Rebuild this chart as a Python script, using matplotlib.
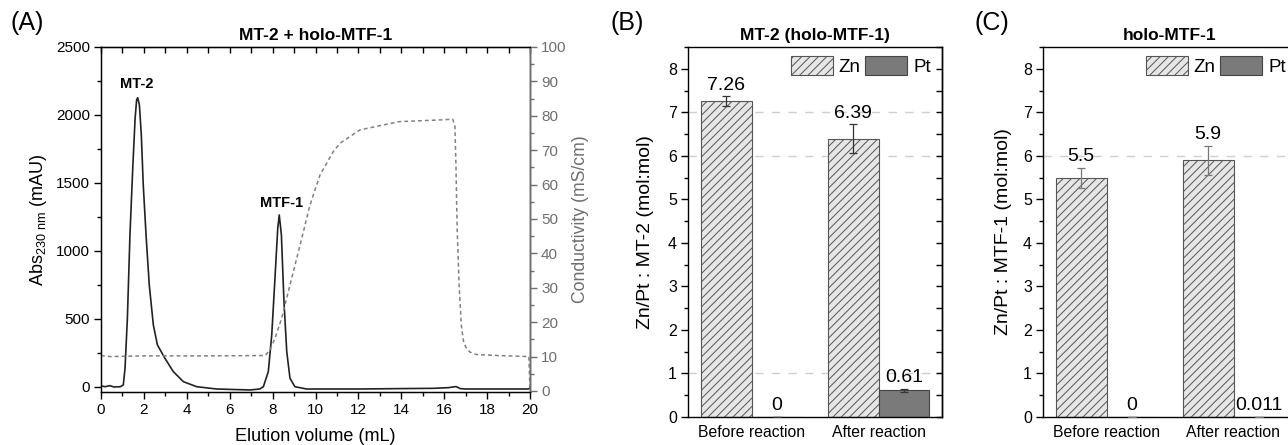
import matplotlib
matplotlib.use("Agg")
import matplotlib.pyplot as plt
from matplotlib.ticker import MultipleLocator
from matplotlib.patches import Patch
import numpy as np

plt.rcParams['font.family'] = ['Liberation Sans', 'DejaVu Sans']
plt.rcParams['hatch.linewidth'] = 0.7

# ---------------- data ----------------
# Panel A: chromatogram (absorbance at 230 nm, mAU)
abs_x = [0.0, 0.2, 0.4, 0.6, 0.9, 1.04, 1.12, 1.23, 1.35, 1.48, 1.59, 1.66, 1.71, 1.79,
         1.88, 1.97, 2.10, 2.25, 2.44, 2.63, 2.98, 3.37, 3.84, 4.46, 5.39, 6.95, 7.40,
         7.57, 7.80, 7.96, 8.11, 8.24, 8.31, 8.41, 8.53, 8.66, 8.81, 9.04, 9.59, 12.0,
         14.0, 15.5, 16.2, 16.55, 16.75, 17.0, 19.9, 20.0]
abs_y = [8, 2, 10, 0, 2, 15, 137, 505, 1118, 1608, 1975, 2110, 2127, 2074,
         1853, 1485, 1118, 750, 456, 309, 211, 113, 39, 2, -15, -22, -15,
         2, 113, 382, 799, 1167, 1265, 1118, 627, 260, 64, 2, -15, -15,
         -12, -10, -5, 3, -12, -15, -15, -10]
# Conductivity (mS/cm)
cond_x = [0.0, 0.43, 2.0, 5.0, 7.65, 7.88, 8.11, 8.42, 8.81, 9.28, 9.74, 10.21, 10.83,
          11.14, 12.07, 13.9, 15.8, 16.4, 16.5, 16.55, 16.6, 16.7, 16.8, 16.9, 17.0,
          17.2, 17.5, 18.5, 19.95, 20.0]
cond_y = [10.3, 10.0, 10.2, 10.2, 10.3, 11.9, 15.3, 21.1, 30.8, 42.4, 54.0, 62.8, 69.6,
          72.0, 75.9, 78.3, 78.8, 79.0, 77.0, 65.0, 48.0, 30.0, 19.0, 14.5, 12.8,
          11.3, 10.6, 10.3, 10.0, 0.0]

# Panels B and C: metal ratios
categories = ["Before reaction", "After reaction"]
b_zn = [7.26, 6.39]
b_zn_err = [0.11, 0.33]
b_pt = [0.0, 0.61]
b_pt_err = [0.0, 0.04]
b_zn_labels = ["7.26", "6.39"]
b_pt_labels = ["0", "0.61"]

c_zn = [5.5, 5.9]
c_zn_err = [0.23, 0.33]
c_pt = [0.0, 0.011]
c_pt_err = [0.0, 0.0]
c_zn_labels = ["5.5", "5.9"]
c_pt_labels = ["0", "0.011"]

W, H = 1288, 445
fig = plt.figure(figsize=(W / 100, H / 100), dpi=100)

def box(l, t, r, b):
    return [l / W, 1 - b / H, (r - l) / W, (b - t) / H]

LINE = '#222222'
GRAY = '#6e6e6e'

# ---------------- Panel A ----------------
axA = fig.add_axes(box(101, 47, 530, 392))
axA.plot(abs_x, abs_y, color=LINE, lw=1.2, zorder=3)
axA.set_xlim(0, 20)
axA.set_ylim(-37, 2500)
axA.xaxis.set_major_locator(MultipleLocator(2))
axA.xaxis.set_minor_locator(MultipleLocator(1))
axA.yaxis.set_major_locator(MultipleLocator(500))
axA.yaxis.set_minor_locator(MultipleLocator(250))
axA.tick_params(axis='both', which='major', direction='out', length=5, width=1,
                labelsize=11, pad=3)
axA.tick_params(axis='both', which='minor', direction='out', length=3, width=1)
axA.set_xlabel("Elution volume (mL)", fontsize=13)
axA.xaxis.set_label_coords(0.5, -0.105)
axA.set_ylabel(r"Abs$_{\mathregular{230\ nm}}$ (mAU)", fontsize=13)
axA.yaxis.set_label_coords(-0.122, 0.5)
axA.set_title("MT-2 + holo-MTF-1", fontsize=12.5, fontweight='bold', pad=5)
for s in axA.spines.values():
    s.set_linewidth(1.0)
axA.text(1.66, 2180, "MT-2", ha='center', va='bottom', fontsize=10.5, fontweight='bold')
axA.text(8.42, 1300, "MTF-1", ha='center', va='bottom', fontsize=10.5, fontweight='bold')
# top ticks inward
secx = axA.secondary_xaxis('top')
secx.xaxis.set_major_locator(MultipleLocator(1))
secx.tick_params(direction='in', length=4, width=1, labeltop=False)
axA.tick_params(axis='x', which='both', top=False)

axA2 = axA.twinx()
axA2.plot(cond_x, cond_y, color='#808080', lw=1.1, ls=(0, (2.5, 2.0)), zorder=2)
axA2.set_ylim(-0.3, 100)
axA2.yaxis.set_major_locator(MultipleLocator(10))
axA2.yaxis.set_minor_locator(MultipleLocator(5))
axA2.tick_params(axis='y', which='major', direction='out', length=5, width=1,
                 colors=GRAY, labelsize=11, pad=3)
axA2.tick_params(axis='y', which='minor', direction='out', length=3, width=1, colors=GRAY)
axA2.spines['right'].set_color(GRAY)
axA2.spines['right'].set_linewidth(1.0)
axA2.set_ylabel("Conductivity (mS/cm)", fontsize=12.7, color=GRAY)
axA2.yaxis.set_label_coords(1.097, 0.5)

# ---------------- Bar panels ----------------
ZN_FACE = '#e6e6e6'
ZN_EDGE = '#555555'
PT_FACE = '#7a7a7a'
PT_EDGE = '#444444'

def bar_panel(rect, title, ylabel, zn, zn_err, pt, pt_err, zn_lab, pt_lab, grid_y,
              err_color, ylab_x):
    ax = fig.add_axes(rect)
    x = np.arange(len(categories))
    w = 0.4
    for gy in grid_y:
        ax.axhline(gy, color='#cfcfcf', lw=1.0, ls=(0, (6, 6)), zorder=0)
    ax.bar(x - w / 2, zn, width=w, color=ZN_FACE, edgecolor=ZN_EDGE, hatch='////',
           lw=0.8, zorder=2)
    ax.bar(x + w / 2, pt, width=w, color=PT_FACE, edgecolor=PT_EDGE, lw=0.8, zorder=2)
    ax.errorbar(x - w / 2, zn, yerr=zn_err, fmt='none', ecolor=err_color, elinewidth=0.9,
                capsize=3, capthick=0.9, zorder=3)
    ax.errorbar(x + w / 2, pt, yerr=pt_err, fmt='none', ecolor=err_color, elinewidth=0.9,
                capsize=3, capthick=0.9, zorder=3)
    for i in range(len(categories)):
        ax.text(x[i] - w / 2, zn[i] + zn_err[i] + 0.06, zn_lab[i], ha='center',
                va='bottom', fontsize=14)
        ax.text(x[i] + w / 2, pt[i] + pt_err[i] + 0.06, pt_lab[i], ha='center',
                va='bottom', fontsize=14)
    ax.set_xlim(-0.5, 1.5)
    ax.set_ylim(0, 8.5)
    ax.set_xticks(x)
    ax.set_xticklabels(categories, fontsize=11.3)
    ax.tick_params(axis='x', length=0, pad=6)
    ax.yaxis.set_major_locator(MultipleLocator(1))
    ax.yaxis.set_minor_locator(MultipleLocator(0.5))
    ax.tick_params(axis='y', which='major', direction='out', length=5, width=1,
                   labelsize=11.5, pad=3)
    ax.tick_params(axis='y', which='minor', direction='out', length=3, width=1)
    secy = ax.secondary_yaxis('right')
    secy.yaxis.set_major_locator(MultipleLocator(0.5))
    secy.tick_params(direction='in', length=4, width=1, labelright=False)
    secy.spines['right'].set_linewidth(1.0)
    for s in ax.spines.values():
        s.set_linewidth(1.0)
    ax.set_title(title, fontsize=12.5, fontweight='bold', pad=5)
    ax.set_ylabel(ylabel, fontsize=14)
    ax.yaxis.set_label_coords(ylab_x, 0.5)
    handles = [Patch(facecolor=ZN_FACE, edgecolor=ZN_EDGE, hatch='////', lw=0.8, label='Zn'),
               Patch(facecolor=PT_FACE, edgecolor=PT_EDGE, lw=0.8, label='Pt')]
    ax.legend(handles=handles, loc='upper right', bbox_to_anchor=(0.97, 0.985), ncol=2,
              frameon=False, fontsize=13.5, handlelength=2.25, handleheight=1.15,
              handletextpad=0.3, columnspacing=0.25, borderaxespad=0.0, borderpad=0.2)
    return ax

axB = bar_panel(box(688, 47, 942, 417), "MT-2 (holo-MTF-1)", "Zn/Pt : MT-2 (mol:mol)",
                b_zn, b_zn_err, b_pt, b_pt_err, b_zn_labels, b_pt_labels, [1, 6, 7],
                '#333333', -0.134)
axC = bar_panel(box(1043, 47, 1297, 417), "holo-MTF-1", "Zn/Pt : MTF-1 (mol:mol)",
                c_zn, c_zn_err, c_pt, c_pt_err, c_zn_labels, c_pt_labels, [6],
                '#777777', -0.122)

# panel letters
for lab, xp in [("(A)", 10), ("(B)", 610), ("(C)", 975)]:
    fig.text(xp / W, 1 - 23 / H, lab, fontsize=18, ha='left', va='center')

fig.savefig("out.png", dpi=100)
